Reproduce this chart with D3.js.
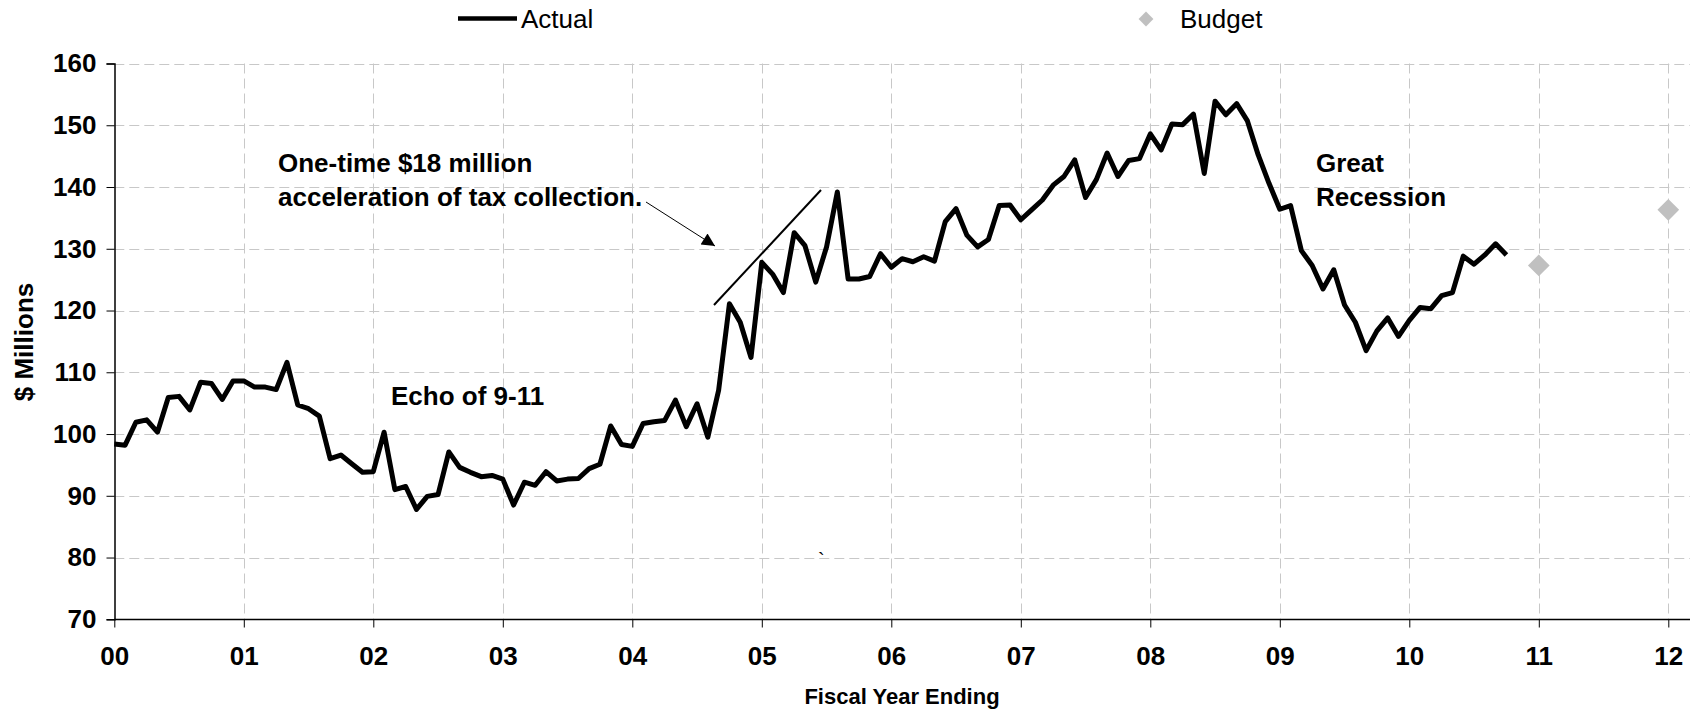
<!DOCTYPE html>
<html><head><meta charset="utf-8">
<script src="https://cdn.jsdelivr.net/npm/d3@7"></script>
<style>
body{margin:0;background:#fff}
svg{display:block}
text{font-family:"Liberation Sans",Arial,Helvetica,sans-serif;fill:#000}
</style>
</head><body>
<svg id="chart" width="1690" height="711"></svg>
<script>
// ---- data (monthly actuals starting FY00, $ millions) ----
const actual = [
  98.4, 98.2, 101.9, 102.3, 100.3, 105.9, 106.1, 103.9, 108.4, 108.2, 105.6, 108.6,
  108.6, 107.6, 107.6, 107.2, 111.6, 104.7, 104.1, 102.9, 96.0, 96.6, 95.2, 93.8,
  93.9, 100.3, 91.0, 91.5, 87.8, 89.9, 90.2, 97.1, 94.6, 93.8, 93.1, 93.3,
  92.7, 88.5, 92.2, 91.7, 93.9, 92.4, 92.7, 92.8, 94.4, 95.1, 101.3, 98.3,
  98.0, 101.7, 102.0, 102.2, 105.5, 101.2, 104.9, 99.5, 107.1, 121.1, 118.1, 112.4,
  127.8, 125.9, 122.9, 132.6, 130.5, 124.6, 130.3, 139.2, 125.1, 125.1, 125.5, 129.2,
  127.0, 128.4, 127.9, 128.7, 128.0, 134.4, 136.5, 132.2, 130.3, 131.5, 137.0, 137.1,
  134.7, 136.3, 137.9, 140.3, 141.7, 144.4, 138.3, 141.2, 145.5, 141.7, 144.3, 144.6,
  148.6, 146.0, 150.2, 150.1, 151.8, 142.2, 153.9, 151.7, 153.5, 150.7, 145.2, 140.6,
  136.4, 137.0, 129.7, 127.3, 123.5, 126.6, 120.9, 118.1, 113.5, 116.7, 118.8, 115.8,
  118.4, 120.5, 120.3, 122.4, 122.9, 128.8, 127.5, 129.0, 130.8, 129.0
];
const periodsPerYear = 12;
const budgetYears = [11, 12];
const budgetValues = [127.3, 136.3];
const xTickLabels = ["00","01","02","03","04","05","06","07","08","09","10","11","12"];
const yTickValues = [70, 80, 90, 100, 110, 120, 130, 140, 150, 160];
const seriesNames = ["Actual", "Budget"];

// ---- layout ----
const svg = d3.select("#chart");
const pL = 114.3, pR = 1668.3, pT = 63.5, pB = 619.3, plotRight = 1690;
const x = d3.scaleLinear().domain([0, xTickLabels.length - 1]).range([pL, pR]);
const y = d3.scaleLinear().domain([70, 160]).range([pB, pT]);

// gridlines
const grid = svg.append("g").attr("stroke", "#c8c8c8").attr("stroke-width", 1).attr("stroke-dasharray", "10,5");
grid.selectAll("line.h").data(yTickValues.slice(1)).join("line")
  .attr("x1", pL).attr("x2", plotRight)
  .attr("y1", d => Math.round(y(d)) + 0.5).attr("y2", d => Math.round(y(d)) + 0.5);
grid.selectAll("line.v").data(d3.range(1, xTickLabels.length)).join("line")
  .attr("y1", pT).attr("y2", pB)
  .attr("x1", d => Math.round(x(d)) + 0.5).attr("x2", d => Math.round(x(d)) + 0.5);

// y axis
const yAxis = svg.append("g").attr("transform", `translate(${Math.round(pL)+0.5},0)`)
  .call(d3.axisLeft(y).tickValues(yTickValues).tickSize(8).tickPadding(10).tickFormat(d3.format("d")));
yAxis.select(".domain").attr("stroke", "#000").attr("stroke-width", 1.5);
yAxis.selectAll(".tick line").attr("stroke", "#000");
yAxis.selectAll(".tick text").attr("font-size", 26).attr("font-weight", "bold")
  .attr("font-family", "'Liberation Sans', Arial, sans-serif").attr("fill", "#000");

// x axis
const xAxis = svg.append("g").attr("transform", `translate(0,${Math.round(pB)+0.5})`)
  .call(d3.axisBottom(x).tickValues(d3.range(xTickLabels.length)).tickSize(8).tickPadding(19)
    .tickFormat(i => xTickLabels[i]));
xAxis.select(".domain").attr("stroke", "#000").attr("stroke-width", 1.5).attr("d", `M${pL},0H${plotRight}`);
xAxis.selectAll(".tick line").attr("stroke", "#000");
xAxis.selectAll(".tick text").attr("font-size", 26).attr("font-weight", "bold")
  .attr("font-family", "'Liberation Sans', Arial, sans-serif").attr("fill", "#000");

// actual line
const line = d3.line().x((d, i) => x(i / periodsPerYear)).y(d => y(d));
svg.append("path").datum(actual).attr("d", line)
  .attr("fill", "none").attr("stroke", "#000").attr("stroke-width", 5).attr("stroke-linejoin", "round");

// budget diamonds
const diamond = d3.symbol().type(d3.symbolDiamond2).size(300);
svg.selectAll("path.budget").data(budgetYears).join("path")
  .attr("class", "budget").attr("d", diamond)
  .attr("transform", (d, i) => `translate(${x(d)},${y(budgetValues[i])})`)
  .attr("fill", "#c0c0c0");

// legend
svg.append("line").attr("x1", 458).attr("x2", 517).attr("y1", 18.5).attr("y2", 18.5)
  .attr("stroke", "#000").attr("stroke-width", 4.5);
svg.append("text").attr("x", 521).attr("y", 28).attr("font-size", 26).text(seriesNames[0]);
svg.append("path").attr("d", d3.symbol().type(d3.symbolDiamond2).size(140))
  .attr("transform", "translate(1146,19)").attr("fill", "#c0c0c0");
svg.append("text").attr("x", 1180).attr("y", 28).attr("font-size", 26).text(seriesNames[1]);

// axis titles
svg.append("text").attr("transform", "translate(33,342) rotate(-90)")
  .attr("text-anchor", "middle").attr("font-size", 26).attr("font-weight", "bold").text("$ Millions");
svg.append("text").attr("x", 902).attr("y", 704).attr("text-anchor", "middle")
  .attr("font-size", 22).attr("font-weight", "bold").text("Fiscal Year Ending");

// annotations
const ann = svg.append("g").attr("font-size", 26).attr("font-weight", "bold");
ann.append("text").attr("x", 278).attr("y", 172).text("One-time $18 million");
ann.append("text").attr("x", 278).attr("y", 206).text("acceleration of tax collection.");
ann.append("text").attr("x", 391).attr("y", 405).text("Echo of 9-11");
ann.append("text").attr("x", 1316).attr("y", 172).text("Great");
ann.append("text").attr("x", 1316).attr("y", 206).text("Recession");

svg.append("defs").append("marker").attr("id", "arr")
  .attr("viewBox", "0 0 10 10").attr("refX", 10).attr("refY", 5)
  .attr("markerWidth", 15).attr("markerHeight", 13).attr("markerUnits", "userSpaceOnUse")
  .attr("orient", "auto").append("path").attr("d", "M0,0L10,5L0,10Z").attr("fill", "#000");
svg.append("line").attr("x1", 646).attr("y1", 202).attr("x2", 715).attr("y2", 246)
  .attr("stroke", "#000").attr("stroke-width", 1).attr("marker-end", "url(#arr)");
svg.append("line").attr("x1", 714).attr("y1", 305).attr("x2", 821).attr("y2", 190)
  .attr("stroke", "#000").attr("stroke-width", 2);
svg.append("text").attr("x", 818).attr("y", 567).attr("font-size", 20).text("`");
</script>
</body></html>
